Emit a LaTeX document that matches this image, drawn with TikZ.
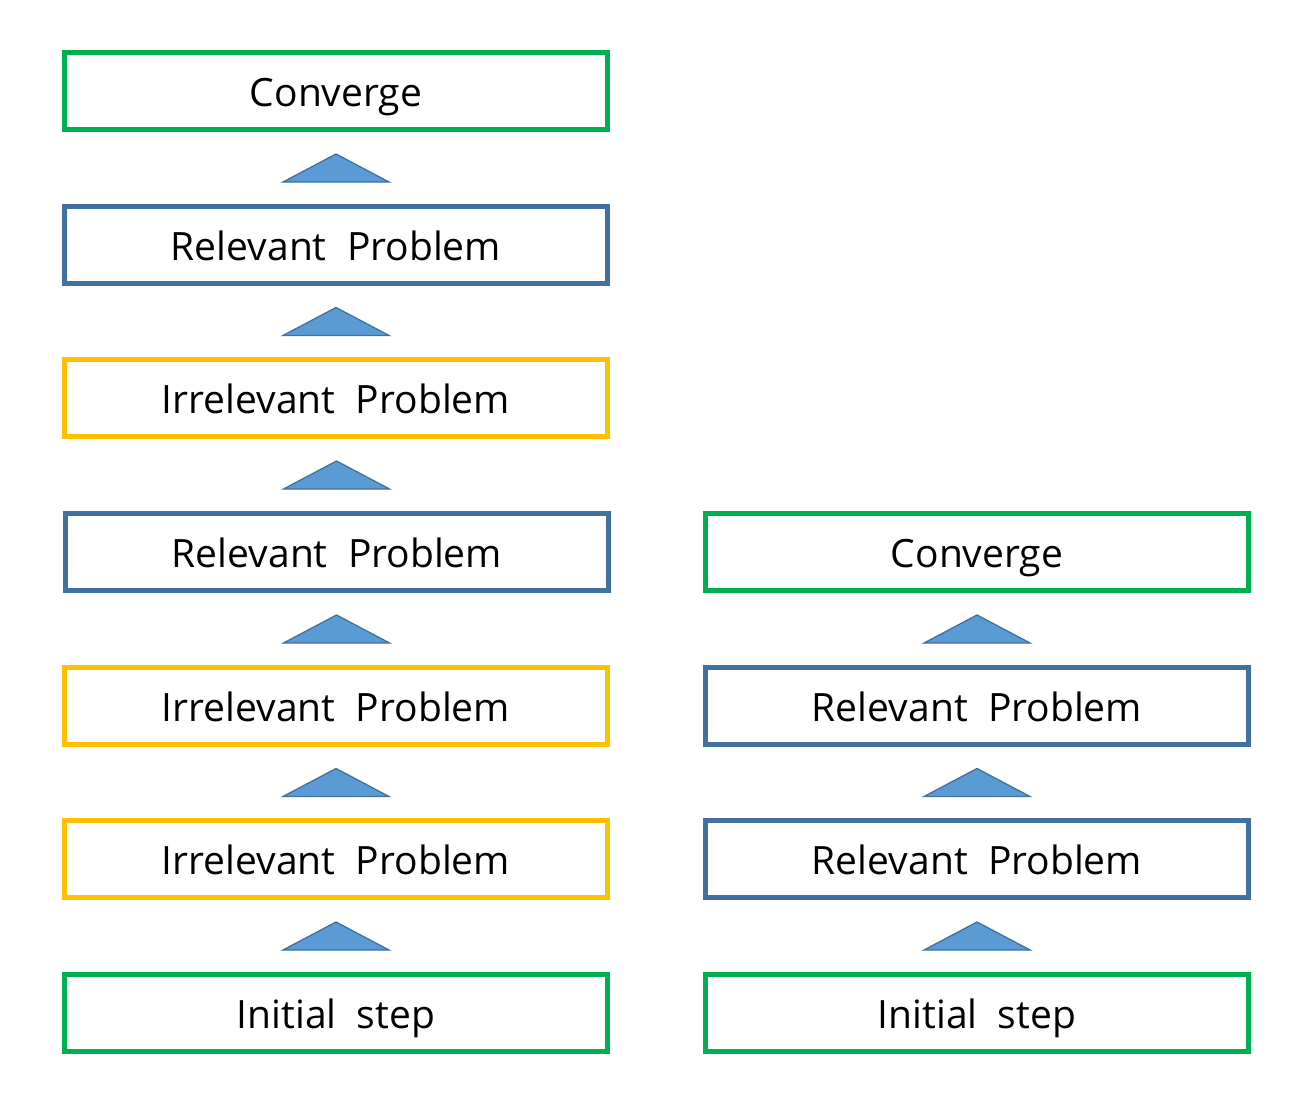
\documentclass[tikz,border=0pt]{standalone}
\usepackage{fontspec}
\setmainfont{Open Sans}
\usetikzlibrary{calc}
\definecolor{cgreen}{HTML}{00B050}
\definecolor{cblue}{HTML}{41719C}
\definecolor{cyellow}{HTML}{FFC000}
\definecolor{cfill}{HTML}{5B9BD5}
\tikzset{
  box/.style={draw, line width=4.3pt, minimum width=543pt, minimum height=77pt, inner sep=0pt,
    text height=35pt, text depth=4pt,
    font=\fontsize{39}{47}\selectfont, text=black},
  gbox/.style={box, draw=cgreen},
  bbox/.style={box, draw=cblue},
  ybox/.style={box, draw=cyellow},
  tri/.style={fill=cfill, draw=cblue, line width=1.3pt, line join=miter},
}
\newcommand{\uptri}[2]{\draw[tri] ($(#1.south)!0.5!(#2.north)$) ++(-53,14) -- ++(53,-28) -- ++(53,28) -- cycle;}
\begin{document}
\begin{tikzpicture}[x=1pt,y=-1pt]
\useasboundingbox (0,0) rectangle (1292,1095);
\node[gbox] (l1) at (336,91) {Converge};
\node[bbox] (l2) at (336,245) {Relevant\ \ Problem};
\node[ybox] (l3) at (336,398) {Irrelevant\ \ Problem};
\node[bbox] (l4) at (337,552) {Relevant\ \ Problem};
\node[ybox] (l5) at (336,706) {Irrelevant\ \ Problem};
\node[ybox] (l6) at (336,859) {Irrelevant\ \ Problem};
\node[gbox] (l7) at (336,1013) {Initial\ \ step};
\node[gbox] (r1) at (977,552) {Converge};
\node[bbox] (r2) at (977,706) {Relevant\ \ Problem};
\node[bbox] (r3) at (977,859) {Relevant\ \ Problem};
\node[gbox] (r4) at (977,1013) {Initial\ \ step};
\uptri{l1}{l2}
\uptri{l2}{l3}
\uptri{l3}{l4}
\uptri{l4}{l5}
\uptri{l5}{l6}
\uptri{l6}{l7}
\uptri{r1}{r2}
\uptri{r2}{r3}
\uptri{r3}{r4}
\end{tikzpicture}
\end{document}
